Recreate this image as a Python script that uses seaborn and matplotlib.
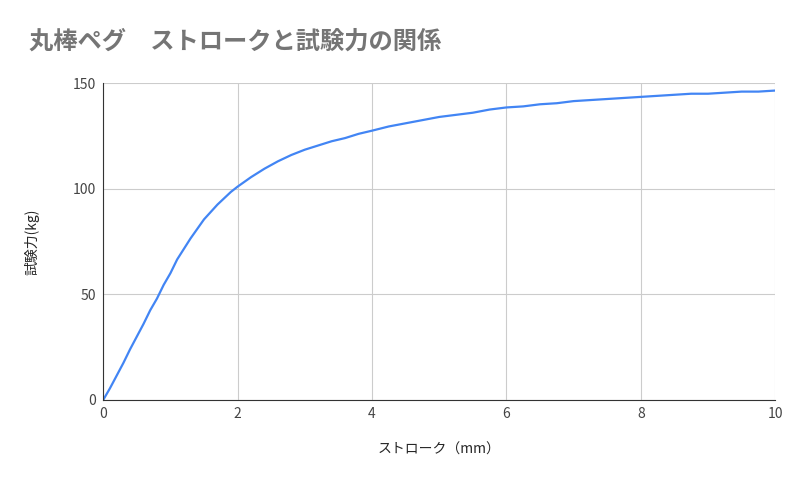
import matplotlib
matplotlib.use("Agg")
import matplotlib.pyplot as plt
import seaborn as sns
import pandas as pd

# stroke (mm) and test force (kg)
stroke = [0.0, 0.1, 0.2, 0.3, 0.4, 0.5, 0.6, 0.7, 0.8, 0.9, 1.0, 1.1, 1.2, 1.3, 1.4,
          1.5, 1.6, 1.7, 1.8, 1.9, 2.0, 2.2, 2.4, 2.6, 2.8, 3.0, 3.2, 3.4, 3.6,
          3.8, 4.0, 4.25, 4.5, 4.75, 5.0, 5.25, 5.5, 5.75, 6.0, 6.25, 6.5, 6.75,
          7.0, 7.25, 7.5, 7.75, 8.0, 8.25, 8.5, 8.75, 9.0, 9.25, 9.5, 9.75, 10.0]
force = [0.0, 5.5, 11.5, 17.5, 24.0, 30.0, 36.0, 42.5, 48.0, 54.5, 60.0, 66.5, 71.5,
         76.5, 81.0, 85.5, 89.0, 92.5, 95.5, 98.5, 101.0, 105.5, 109.5, 113.0, 116.0,
         118.5, 120.5, 122.5, 124.0, 126.0, 127.5, 129.5, 131.0, 132.5, 134.0, 135.0,
         136.0, 137.5, 138.5, 139.0, 140.0, 140.5, 141.5, 142.0, 142.5, 143.0, 143.5,
         144.0, 144.5, 145.0, 145.0, 145.5, 146.0, 146.0, 146.5]

df = pd.DataFrame({"stroke": stroke, "force": force})

sns.set_style("white")
plt.rcParams['font.family'] = ['Noto Sans CJK JP', 'DejaVu Sans']

fig, ax = plt.subplots(figsize=(8, 4.95), dpi=100)
fig.subplots_adjust(left=0.129, right=0.969, top=0.832, bottom=0.192)

sns.lineplot(data=df, x="stroke", y="force", color="#4285F4", linewidth=1.6, ax=ax)

ax.set_xlim(0, 10)
ax.set_ylim(0, 150)
ax.set_xticks([0, 2, 4, 6, 8, 10])
ax.set_yticks([0, 50, 100, 150])
ax.grid(True, color="#cccccc", linewidth=0.8)
for s in ["top", "right"]:
    ax.spines[s].set_visible(False)
for s in ["left", "bottom"]:
    ax.spines[s].set_color("#333333")
ax.tick_params(length=0, labelsize=10, colors="#444444", pad=5)
ax.set_xlabel("ストローク（mm）", fontsize=10, labelpad=16)
ax.set_ylabel("試験力(kg)", fontsize=10, labelpad=24)
fig.text(0.036, 0.915, "丸棒ペグ　ストロークと試験力の関係", fontsize=17.5,
         color="#757575", va="center", fontweight="bold")

fig.savefig("out.png")
